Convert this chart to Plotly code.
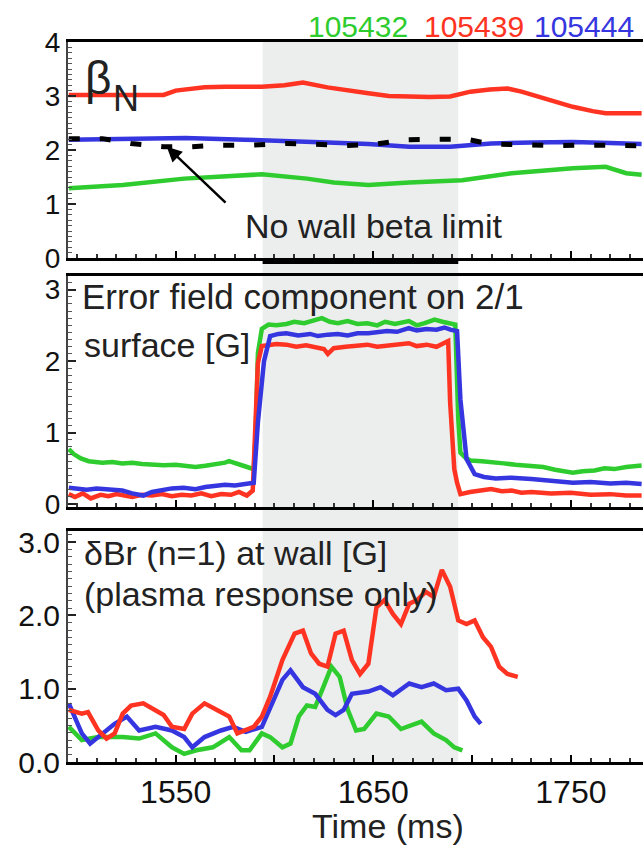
import plotly.graph_objects as go

# ---------------- data ----------------
# Panel 1: beta_N
bn_green_t = [1495.9, 1523.2, 1554.3, 1570.0, 1593.6, 1616.4, 1630.0, 1647.5, 1668.2, 1695.0, 1720.0, 1751.0, 1767.6, 1778.0, 1785.8]
bn_green_v = [1.29, 1.35, 1.47, 1.50, 1.55, 1.47, 1.40, 1.35, 1.40, 1.44, 1.57, 1.66, 1.69, 1.57, 1.54]
bn_red_t = [1495.9, 1523.0, 1543.9, 1550.0, 1556.0, 1564.6, 1575.0, 1593.6, 1605.0, 1614.4, 1626.8, 1637.0, 1647.5, 1657.8,
            1668.2, 1678.5, 1688.9, 1699.2, 1709.0, 1717.9, 1725.0, 1730.3, 1740.7, 1751.0, 1761.0, 1767.6, 1785.8]
bn_red_v = [3.02, 3.02, 3.02, 3.10, 3.13, 3.16, 3.17, 3.17, 3.20, 3.25, 3.16, 3.10, 3.05, 3.00,
            2.98, 2.98, 2.99, 3.08, 3.12, 3.14, 3.08, 3.02, 2.91, 2.80, 2.72, 2.68, 2.68]
bn_blue_t = [1495.9, 1510.0, 1523.0, 1543.9, 1555.0, 1585.0, 1610.0, 1626.8, 1647.5, 1668.2, 1688.9, 1709.6, 1730.0, 1751.0, 1770.0, 1785.8]
bn_blue_v = [2.19, 2.20, 2.21, 2.23, 2.22, 2.19, 2.17, 2.14, 2.11, 2.06, 2.06, 2.12, 2.14, 2.15, 2.13, 2.11]
nowall_t = [1495.9, 1512.9, 1527.4, 1543.9, 1558.0, 1573.0, 1589.5, 1606.0, 1618.5, 1635.0, 1651.6, 1666.0, 1682.6, 1697.0,
            1709.6, 1728.0, 1743.0, 1757.0, 1771.7, 1785.8]
nowall_v = [2.21, 2.21, 2.12, 2.06, 2.06, 2.09, 2.09, 2.12, 2.11, 2.08, 2.11, 2.19, 2.20, 2.20,
            2.11, 2.09, 2.08, 2.09, 2.08, 2.08]

# Panel 2: error field component on 2/1 surface [G]
ef_green_t = [1495.9, 1498.4, 1502.0, 1506.0, 1512.9, 1518.0, 1523.0, 1528.0, 1533.0, 1539.0, 1544.0, 1550.0, 1555.0, 1560.0,
              1565.0, 1570.0, 1575.0, 1577.0, 1581.0, 1585.0, 1589.5, 1590.5, 1591.6, 1593.6, 1597.0, 1601.0, 1606.0, 1610.0,
              1615.0, 1620.0, 1624.0, 1628.0, 1632.0, 1637.0, 1642.0, 1647.0, 1652.0, 1656.0, 1661.0, 1668.0, 1672.0, 1676.0,
              1681.0, 1685.0, 1689.0, 1691.5, 1693.0, 1694.1, 1697.0, 1699.2, 1705.0, 1710.0, 1716.0, 1722.0, 1730.0, 1736.0,
              1742.0, 1748.0, 1751.0, 1756.0, 1762.0, 1767.0, 1772.0, 1778.0, 1785.8]
ef_green_v = [0.77, 0.70, 0.64, 0.60, 0.58, 0.59, 0.57, 0.58, 0.56, 0.55, 0.545, 0.55, 0.53, 0.52,
              0.536, 0.55, 0.58, 0.60, 0.57, 0.53, 0.49, 1.00, 2.11, 2.45, 2.51, 2.50, 2.52, 2.55,
              2.53, 2.57, 2.60, 2.55, 2.53, 2.56, 2.52, 2.53, 2.50, 2.55, 2.52, 2.56, 2.50, 2.53,
              2.58, 2.55, 2.53, 2.51, 1.20, 0.72, 0.64, 0.61, 0.60, 0.59, 0.57, 0.55, 0.536, 0.52,
              0.48, 0.45, 0.44, 0.46, 0.47, 0.50, 0.49, 0.52, 0.54]
ef_red_t = [1495.9, 1499.0, 1503.0, 1507.0, 1512.0, 1516.0, 1520.0, 1523.0, 1528.0, 1533.0, 1538.0, 1543.0, 1548.0, 1553.0,
            1558.0, 1563.0, 1568.0, 1573.0, 1578.0, 1582.0, 1586.0, 1589.0, 1590.5, 1591.6, 1593.6, 1597.0, 1601.0, 1606.0,
            1611.0, 1616.0, 1621.0, 1625.0, 1627.0, 1630.0, 1636.0, 1641.0, 1647.0, 1652.0, 1657.0, 1662.0, 1668.0, 1672.0,
            1677.0, 1682.0, 1687.9, 1688.9, 1691.0, 1692.4, 1694.1, 1699.0, 1705.0, 1709.6, 1715.0, 1720.0, 1725.0, 1730.0,
            1740.0, 1750.0, 1760.0, 1770.0, 1778.0, 1785.8]
ef_red_v = [0.14, 0.10, 0.15, 0.08, 0.13, 0.11, 0.14, 0.12, 0.10, 0.13, 0.12, 0.14, 0.11, 0.13,
            0.12, 0.15, 0.11, 0.14, 0.13, 0.17, 0.12, 0.19, 1.40, 1.97, 2.21, 2.22, 2.24, 2.23,
            2.20, 2.22, 2.19, 2.17, 2.10, 2.18, 2.20, 2.21, 2.23, 2.20, 2.22, 2.24, 2.25, 2.21,
            2.23, 2.20, 2.28, 1.42, 0.49, 0.30, 0.14, 0.17, 0.20, 0.21, 0.18, 0.19, 0.16, 0.17,
            0.15, 0.16, 0.13, 0.14, 0.12, 0.12]
ef_blue_t = [1495.9, 1500.0, 1505.0, 1510.0, 1515.0, 1520.0, 1523.0, 1528.0, 1533.6, 1538.0, 1543.0, 1548.0, 1554.0, 1560.0,
             1565.0, 1570.0, 1575.0, 1580.0, 1585.0, 1589.5, 1591.6, 1594.7, 1597.8, 1602.0, 1606.0, 1612.0, 1618.0, 1622.0,
             1627.0, 1632.0, 1637.0, 1642.0, 1647.5, 1652.0, 1657.0, 1662.0, 1668.0, 1672.0, 1677.0, 1682.0, 1686.0, 1689.0,
             1692.4, 1694.1, 1697.2, 1701.3, 1706.0, 1712.0, 1720.0, 1730.0, 1740.0, 1751.0, 1760.0, 1770.0, 1778.0, 1785.8]
ef_blue_v = [0.23, 0.22, 0.20, 0.22, 0.21, 0.19, 0.19, 0.15, 0.12, 0.17, 0.20, 0.22, 0.23, 0.21,
             0.24, 0.25, 0.27, 0.26, 0.28, 0.30, 1.14, 2.00, 2.35, 2.38, 2.39, 2.36, 2.38, 2.35,
             2.37, 2.38, 2.36, 2.39, 2.39, 2.40, 2.42, 2.41, 2.46, 2.43, 2.45, 2.44, 2.47, 2.44,
             2.42, 1.46, 0.63, 0.42, 0.38, 0.36, 0.37, 0.35, 0.33, 0.30, 0.31, 0.29, 0.30, 0.28]

# Panel 3: dBr (n=1) at wall [G]
br_red_t = [1495.9, 1502.5, 1505.6, 1510.8, 1515.0, 1519.1, 1523.2, 1527.4, 1533.6, 1539.8, 1543.9, 1548.1, 1554.3, 1558.4,
            1564.6, 1570.9, 1577.1, 1581.2, 1585.4, 1589.5, 1593.6, 1597.8, 1604.0, 1610.2, 1614.4, 1618.5, 1622.6, 1626.8,
            1630.9, 1635.0, 1639.2, 1643.3, 1647.5, 1651.6, 1655.7, 1659.9, 1664.0, 1668.2, 1672.3, 1676.5, 1680.6, 1684.7,
            1688.9, 1693.0, 1697.2, 1701.3, 1705.5, 1709.6, 1713.7, 1717.9, 1723.1]
br_red_v = [0.71, 0.66, 0.68, 0.43, 0.32, 0.39, 0.66, 0.77, 0.80, 0.71, 0.64, 0.48, 0.45, 0.66,
            0.80, 0.71, 0.62, 0.39, 0.43, 0.48, 0.62, 0.89, 1.39, 1.75, 1.79, 1.48, 1.34, 1.30,
            1.75, 1.79, 1.39, 1.20, 1.34, 2.11, 2.21, 2.02, 1.88, 2.16, 2.21, 2.32, 2.25, 2.62,
            2.39, 1.93, 1.88, 1.93, 1.70, 1.57, 1.30, 1.20, 1.16]
br_blue_t = [1495.9, 1502.5, 1506.7, 1512.9, 1519.1, 1525.3, 1531.5, 1539.8, 1548.1, 1554.3, 1558.4, 1564.6, 1572.9, 1579.1,
             1585.4, 1593.6, 1597.8, 1604.0, 1608.1, 1614.4, 1620.6, 1626.8, 1630.9, 1635.0, 1639.2, 1647.5, 1653.7, 1659.9,
             1668.2, 1674.4, 1680.6, 1686.8, 1693.0, 1697.2, 1701.3, 1704.4]
br_blue_v = [0.80, 0.39, 0.25, 0.39, 0.52, 0.62, 0.43, 0.48, 0.43, 0.34, 0.20, 0.34, 0.43, 0.48,
             0.41, 0.48, 0.75, 1.12, 1.25, 1.02, 0.93, 0.71, 0.64, 0.71, 0.93, 0.96, 1.02, 0.91,
             1.07, 1.02, 1.07, 0.98, 1.00, 0.84, 0.62, 0.52]
br_green_t = [1495.9, 1502.5, 1510.8, 1523.2, 1531.5, 1539.8, 1548.1, 1554.3, 1560.5, 1568.8, 1577.1, 1583.3, 1587.4, 1593.6,
              1597.8, 1604.0, 1608.1, 1612.3, 1616.4, 1620.6, 1624.7, 1628.8, 1633.0, 1637.1, 1641.3, 1645.4, 1651.6, 1657.8,
              1664.0, 1670.2, 1674.4, 1680.6, 1686.8, 1691.0, 1695.1]
br_green_v = [0.48, 0.30, 0.34, 0.34, 0.32, 0.39, 0.20, 0.11, 0.16, 0.20, 0.34, 0.16, 0.16, 0.39,
              0.34, 0.20, 0.25, 0.62, 0.77, 0.75, 1.02, 1.30, 1.16, 0.71, 0.43, 0.45, 0.66, 0.62,
              0.45, 0.50, 0.55, 0.39, 0.30, 0.20, 0.16]

shots = ["105432", "105439", "105444"]
shade_t = [1594, 1693]
x_range = [1495.5, 1786.5]
x_tickvals = [1550, 1600, 1650, 1700, 1750]
x_ticktext = ["1550", "", "1650", "", "1750"]

# ---------------- styling ----------------
W, H = 643, 845
ML = 68
GREEN, RED, BLUE = "#2ecc2e", "#ff3322", "#3636e0"
FONT = "Liberation Sans, Arial, sans-serif"
TXT = "#222222"


def px_x(px):
    return (px - ML) / (W - ML)


def px_y(py):
    return 1 - py / H


fig = go.Figure()

LW = 4.5


def add(t, v, color, ax, dash=None, width=LW):
    fig.add_trace(go.Scatter(x=t, y=v, mode="lines",
                             line=dict(color=color, width=width, dash=dash),
                             xaxis="x" + ax, yaxis="y" + ax, showlegend=False,
                             hoverinfo="skip"))


# panel 1
add(bn_green_t, bn_green_v, GREEN, "")
add(bn_red_t, bn_red_v, RED, "")
add(bn_blue_t, bn_blue_v, BLUE, "")
add(nowall_t, nowall_v, "black", "", dash="11px,20px", width=5)
# panel 2
add(ef_green_t, ef_green_v, GREEN, "2")
add(ef_red_t, ef_red_v, RED, "2")
add(ef_blue_t, ef_blue_v, BLUE, "2")
# panel 3
add(br_green_t, br_green_v, GREEN, "3")
add(br_blue_t, br_blue_v, BLUE, "3")
add(br_red_t, br_red_v, RED, "3")

xcommon = dict(range=x_range, showgrid=False, zeroline=False, showline=True, linecolor="black",
               linewidth=3, mirror=True, ticks="inside", ticklen=7, tickwidth=2, tickcolor="black",
               tickvals=x_tickvals, ticktext=x_ticktext, automargin=False,
               minor=dict(dtick=10, tick0=1500, ticks="inside", ticklen=4, tickwidth=1.5, tickcolor="#333"),
               tickfont=dict(family=FONT, size=32, color="#111"))

ycommon = dict(showgrid=False, zeroline=False, showline=True, linecolor="#444", linewidth=2,
               ticks="inside", ticklen=8, tickwidth=2, tickcolor="#222", automargin=False,
               tickfont=dict(family=FONT, size=28, color="#111"),
               minor=dict(dtick=0.1, ticks="inside", ticklen=4, tickwidth=1, tickcolor="#555"))

layout = dict(
    width=W, height=H, margin=dict(l=ML, r=0, t=0, b=0),
    paper_bgcolor="white", plot_bgcolor="rgba(0,0,0,0)",
    xaxis=dict(xcommon, anchor="y", showticklabels=False),
    xaxis2=dict(xcommon, anchor="y2", showticklabels=False, matches="x"),
    xaxis3=dict(xcommon, anchor="y3", showticklabels=True, matches="x"),
    yaxis=dict(ycommon, anchor="x", domain=[px_y(258), px_y(42)], range=[0, 4],
               tickvals=[0, 1, 2, 3, 4]),
    yaxis2=dict(ycommon, anchor="x2", domain=[px_y(507), px_y(276)], range=[-0.04, 3.19],
                tickvals=[0, 1, 2, 3]),
    yaxis3=dict(ycommon, anchor="x3", domain=[px_y(762), px_y(531)], range=[0, 3.15],
                tickvals=[0, 1, 2, 3], ticktext=["0.0", "1.0", "2.0", "3.0"],
                tickfont=dict(family=FONT, size=30, color="#111")),
)
fig.update_layout(**layout)

# shaded interval spanning all panels
fig.add_shape(type="rect", xref="x", yref="paper", x0=shade_t[0], x1=shade_t[1],
              y0=px_y(762), y1=px_y(42), fillcolor="#eceeee", line=dict(width=0), layer="below")
# thick segment under panel 1 in the shaded interval
fig.add_shape(type="rect", xref="x", yref="paper", x0=shade_t[0], x1=shade_t[1],
              y0=px_y(264), y1=px_y(258), fillcolor="black", line=dict(width=0), layer="above")

ann = []
# shot legend
legend_x = [306, 422, 532]
for s, c, xp in zip(shots, [GREEN, RED, BLUE], legend_x):
    ann.append(dict(text=s, xref="paper", yref="paper", x=px_x(xp), y=px_y(27), xanchor="left",
                    yanchor="middle", showarrow=False, font=dict(family=FONT, size=30, color=c)))
# beta_N
ann.append(dict(text="β", xref="paper", yref="paper", x=px_x(83), y=px_y(78), xanchor="left",
                yanchor="middle", showarrow=False, font=dict(family=FONT, size=46, color=TXT)))
ann.append(dict(text="N", xref="paper", yref="paper", x=px_x(111), y=px_y(99), xanchor="left",
                yanchor="middle", showarrow=False, font=dict(family=FONT, size=36, color=TXT)))
# No wall beta limit + arrow
ann.append(dict(text="No wall beta limit", xref="paper", yref="paper", x=px_x(243), y=px_y(226),
                xanchor="left", yanchor="middle", showarrow=False,
                font=dict(family=FONT, size=34, color=TXT)))
ann.append(dict(text="", xref="x", yref="y", x=1545.5, y=2.06, ax=1576, ay=1.0, axref="x", ayref="y",
                showarrow=True, arrowhead=2, arrowsize=1.2, arrowwidth=2.5, arrowcolor="black"))
# panel 2 label
ann.append(dict(text="Error field component on 2/1", xref="paper", yref="paper", x=px_x(80), y=px_y(296),
                xanchor="left", yanchor="middle", showarrow=False,
                font=dict(family=FONT, size=35, color=TXT)))
ann.append(dict(text="surface [G]", xref="paper", yref="paper", x=px_x(82), y=px_y(345),
                xanchor="left", yanchor="middle", showarrow=False,
                font=dict(family=FONT, size=34, color=TXT)))
# panel 3 label
ann.append(dict(text="δBr (n=1) at wall [G]", xref="paper", yref="paper", x=px_x(82), y=px_y(553),
                xanchor="left", yanchor="middle", showarrow=False,
                font=dict(family=FONT, size=34, color=TXT)))
ann.append(dict(text="(plasma response only)", xref="paper", yref="paper", x=px_x(82), y=px_y(594),
                xanchor="left", yanchor="middle", showarrow=False,
                font=dict(family=FONT, size=34, color=TXT)))
# x title
ann.append(dict(text="Time (ms)", xref="paper", yref="paper", x=px_x(388), y=px_y(826),
                xanchor="center", yanchor="middle", showarrow=False,
                font=dict(family=FONT, size=34, color=TXT)))

fig.update_layout(annotations=ann)
fig.write_html("out.html")
